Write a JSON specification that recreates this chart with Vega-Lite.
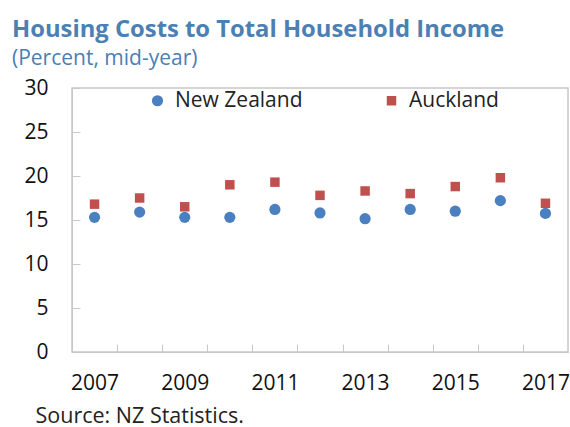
{
  "$schema": "https://vega.github.io/schema/vega-lite/v6.json",
  "width": 496,
  "height": 264,
  "autosize": {"type": "none"},
  "padding": {"left": 72, "top": 88, "right": 2, "bottom": 75},
  "background": "white",
  "title": {
    "text": "Housing Costs to Total Household Income",
    "subtitle": "(Percent, mid-year)",
    "anchor": "start",
    "frame": "group",
    "dx": -60,
    "font": "Open Sans",
    "fontSize": 23.8,
    "fontWeight": "bold",
    "color": "#4a80b4",
    "subtitleFont": "Open Sans",
    "subtitleFontSize": 21,
    "subtitleColor": "#4a80b4",
    "subtitlePadding": 6,
    "offset": 8
  },
  "data": {
    "values": [
      {"year": 2007, "series": "Auckland", "value": 16.8},
      {"year": 2008, "series": "Auckland", "value": 17.5},
      {"year": 2009, "series": "Auckland", "value": 16.5},
      {"year": 2010, "series": "Auckland", "value": 19.0},
      {"year": 2011, "series": "Auckland", "value": 19.3},
      {"year": 2012, "series": "Auckland", "value": 17.8},
      {"year": 2013, "series": "Auckland", "value": 18.3},
      {"year": 2014, "series": "Auckland", "value": 18.0},
      {"year": 2015, "series": "Auckland", "value": 18.8},
      {"year": 2016, "series": "Auckland", "value": 19.8},
      {"year": 2017, "series": "Auckland", "value": 16.9},
      {"year": 2007, "series": "New Zealand", "value": 15.3},
      {"year": 2008, "series": "New Zealand", "value": 15.9},
      {"year": 2009, "series": "New Zealand", "value": 15.3},
      {"year": 2010, "series": "New Zealand", "value": 15.3},
      {"year": 2011, "series": "New Zealand", "value": 16.2},
      {"year": 2012, "series": "New Zealand", "value": 15.8},
      {"year": 2013, "series": "New Zealand", "value": 15.15},
      {"year": 2014, "series": "New Zealand", "value": 16.2},
      {"year": 2015, "series": "New Zealand", "value": 16.0},
      {"year": 2016, "series": "New Zealand", "value": 17.2},
      {"year": 2017, "series": "New Zealand", "value": 15.75}
    ]
  },
  "mark": {"type": "point", "filled": true, "opacity": 1},
  "encoding": {
    "x": {
      "field": "year",
      "type": "quantitative",
      "scale": {"domain": [2006.5, 2017.5], "nice": false, "zero": false},
      "axis": {
        "title": "Source: NZ Statistics.",
        "titleAnchor": "start",
        "titleAlign": "left",
        "titleX": -37,
        "titleY": 70,
        "titleBaseline": "alphabetic",
        "titleFont": "Open Sans",
        "titleFontSize": 21.5,
        "titleFontWeight": "normal",
        "titleColor": "#222222",
        "values": [2007, 2007.5, 2008.5, 2009, 2009.5, 2010.5, 2011, 2011.5, 2012.5, 2013, 2013.5, 2014.5, 2015, 2015.5, 2016.5, 2017],
        "labelExpr": "datum.value % 2 == 1 ? format(datum.value, 'd') : ''",
        "labelOverlap": false,
        "labelFlush": false,
        "labelFont": "Open Sans",
        "labelFontSize": 21,
        "labelColor": "#111111",
        "labelPadding": 28,
        "tickSize": -8,
        "tickColor": "#c8c8c8",
        "tickOpacity": {"condition": {"test": "datum.value % 1 == 0", "value": 0}, "value": 1},
        "domainColor": "#c8c8c8",
        "grid": false
      }
    },
    "y": {
      "field": "value",
      "type": "quantitative",
      "scale": {"domain": [0, 30], "nice": false},
      "axis": {
        "title": null,
        "values": [0, 5, 10, 15, 20, 25, 30],
        "labelFont": "Open Sans",
        "labelFontSize": 21,
        "labelColor": "#111111",
        "labelPadding": 32,
        "tickSize": -8,
        "tickColor": "#c8c8c8",
        "domainColor": "#c8c8c8",
        "grid": false
      }
    },
    "color": {
      "field": "series",
      "type": "nominal",
      "scale": {"domain": ["New Zealand", "Auckland"], "range": ["#4a7fc0", "#c0504d"]},
      "legend": {
        "orient": "none",
        "legendX": 75,
        "legendY": 2,
        "direction": "horizontal",
        "title": null,
        "labelFont": "Open Sans",
        "labelFontSize": 21,
        "labelColor": "#222222",
        "symbolSize": 50,
        "labelOffset": 7,
        "columnPadding": 78
      }
    },
    "shape": {
      "field": "series",
      "type": "nominal",
      "scale": {"domain": ["New Zealand", "Auckland"], "range": ["circle", "square"]}
    },
    "size": {
      "field": "series",
      "type": "nominal",
      "scale": {"domain": ["New Zealand", "Auckland"], "range": [125, 90]},
      "legend": null
    }
  },
  "config": {
    "view": {"stroke": "#c8c8c8", "strokeWidth": 1.5},
    "font": "Open Sans"
  }
}
